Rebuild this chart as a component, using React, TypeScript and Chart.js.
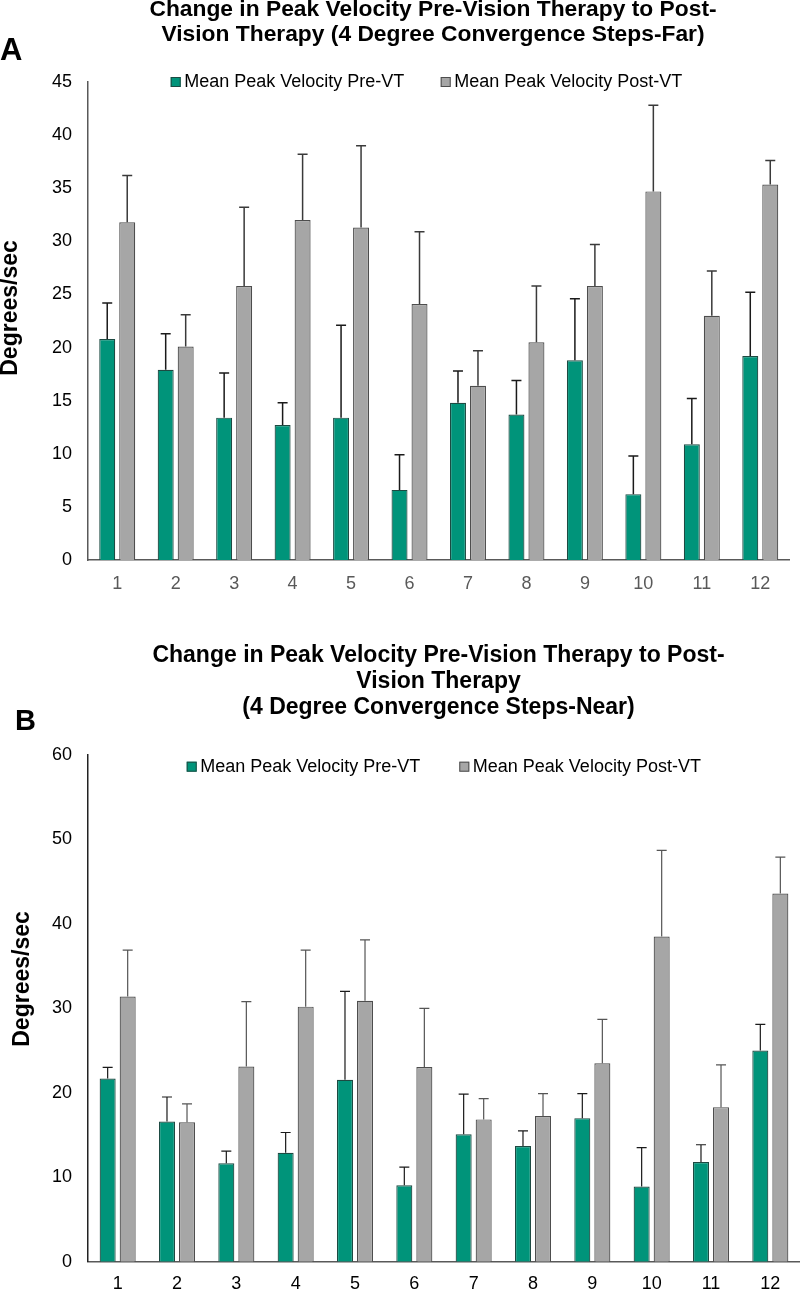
import React, { useEffect, useRef } from "react";
import { Chart, registerables } from "chart.js";

Chart.register(...registerables);

// ---------- DATA ----------
const categories = ["1", "2", "3", "4", "5", "6", "7", "8", "9", "10", "11", "12"];
const seriesLabels = ["Mean Peak Velocity Pre-VT", "Mean Peak Velocity Post-VT"];

// Panel A (Far)
const farPre = [20.8, 17.9, 13.4, 12.7, 13.4, 6.6, 14.8, 13.7, 18.8, 6.2, 10.9, 19.2];
const farPreSD = [3.4, 3.4, 4.2, 2.1, 8.7, 3.3, 3.0, 3.2, 5.8, 3.6, 4.3, 6.0];
const farPost = [31.8, 20.1, 25.8, 32.0, 31.3, 24.1, 16.4, 20.5, 25.8, 34.7, 23.0, 35.35];
const farPostSD = [4.4, 3.0, 7.4, 6.2, 7.7, 6.8, 3.3, 5.3, 3.9, 8.1, 4.2, 2.25];

// Panel B (Near)
const nearPre = [21.7, 16.6, 11.65, 12.9, 21.55, 9.05, 15.1, 13.7, 17.0, 8.9, 11.8, 25.0];
const nearPreSD = [1.3, 2.9, 1.45, 2.4, 10.45, 2.15, 4.75, 1.8, 2.9, 4.6, 2.05, 3.1];
const nearPost = [31.4, 16.5, 23.1, 30.2, 30.9, 23.05, 16.85, 17.25, 23.5, 38.5, 18.3, 43.6];
const nearPostSD = [5.5, 2.2, 7.7, 6.7, 7.2, 6.95, 2.45, 2.65, 5.2, 10.2, 5.0, 4.3];

const farTitle = [
  "Change in Peak Velocity Pre-Vision Therapy to Post-",
  "Vision Therapy (4 Degree Convergence Steps-Far)",
];
const nearTitle = [
  "Change in Peak Velocity Pre-Vision Therapy to Post-",
  "Vision Therapy",
  "(4 Degree Convergence Steps-Near)",
];
const yAxisTitle = "Degrees/sec";
const farYMax = 45;
const farYStep = 5;
const nearYMax = 60;
const nearYStep = 10;

// ---------- STYLE ----------
const FONT = "'Liberation Sans', Arial, Helvetica, sans-serif";
const TEAL = "#00947a";
const TEAL_BORDER = "#1d4a42";
const GRAY = "#a6a6a6";
const GRAY_BORDER = "#4d4d4d";

const errorBarPlugin = {
  id: "errorBars",
  afterDatasetsDraw(chart: any) {
    const ctx = chart.ctx;
    const yScale = chart.scales.y;
    chart.data.datasets.forEach((ds: any, i: number) => {
      const meta = chart.getDatasetMeta(i);
      meta.data.forEach((el: any, j: number) => {
        const v = ds.data[j];
        const e = ds.errors[j];
        const top = yScale.getPixelForValue(v + e);
        ctx.save();
        ctx.strokeStyle = ds.errorColor;
        ctx.lineWidth = ds.errorWidth;
        ctx.beginPath();
        ctx.moveTo(el.x, el.y);
        ctx.lineTo(el.x, top);
        ctx.moveTo(el.x - 5, top);
        ctx.lineTo(el.x + 5, top);
        ctx.stroke();
        ctx.restore();
      });
    });
  },
};

const decorPlugin = {
  id: "decor",
  afterDraw(chart: any, _args: any, opts: any) {
    const ctx = chart.ctx;
    ctx.save();
    // Title
    ctx.fillStyle = "#000";
    ctx.font = `bold ${opts.titleSize}px ${FONT}`;
    ctx.textAlign = "center";
    ctx.textBaseline = "middle";
    opts.title.forEach((line: string, i: number) => {
      ctx.fillText(line, opts.titleX, opts.titleY[i]);
    });
    // Panel letter
    ctx.font = `bold ${opts.letterSize}px ${FONT}`;
    ctx.textAlign = "left";
    ctx.fillText(opts.letter, opts.letterX, opts.letterY);
    // Legend
    ctx.font = `18px ${FONT}`;
    chart.data.datasets.forEach((ds: any, i: number) => {
      const bx = opts.legendX[i];
      const by = opts.legendY;
      ctx.fillStyle = ds.backgroundColor;
      ctx.fillRect(bx, by - 5, 10, 10);
      ctx.strokeStyle = ds.borderColor;
      ctx.lineWidth = 1;
      ctx.strokeRect(bx + 0.5, by - 4.5, 9, 9);
      ctx.fillStyle = "#000";
      ctx.textAlign = "left";
      ctx.textBaseline = "middle";
      ctx.fillText(ds.label, bx + 13.5, by);
    });
    // Y axis title
    ctx.translate(opts.yTitleX, opts.yTitleY);
    ctx.rotate(-Math.PI / 2);
    ctx.textAlign = "center";
    ctx.textBaseline = "alphabetic";
    ctx.font = `bold 23px ${FONT}`;
    ctx.fillStyle = "#000";
    ctx.fillText(yAxisTitle, 0, 0);
    ctx.restore();
  },
};

function buildConfig(p: any): any {
  return {
    type: "bar",
    data: {
      labels: categories,
      datasets: [
        {
          label: seriesLabels[0],
          data: p.pre,
          errors: p.preSD,
          errorColor: "#1a1a1a",
          errorWidth: p.errW,
          backgroundColor: TEAL,
          borderColor: TEAL_BORDER,
          borderWidth: 1.2,
          categoryPercentage: p.catPct,
          barPercentage: 0.8,
        },
        {
          label: seriesLabels[1],
          data: p.post,
          errors: p.postSD,
          errorColor: p.grayErr,
          errorWidth: p.errW,
          backgroundColor: GRAY,
          borderColor: GRAY_BORDER,
          borderWidth: 1.2,
          categoryPercentage: p.catPct,
          barPercentage: 0.8,
        },
      ],
    },
    options: {
      responsive: false,
      animation: false,
      devicePixelRatio: 1,
      layout: { padding: { top: p.padTop, right: p.padRight, bottom: 0, left: 0 } },
      plugins: {
        legend: { display: false },
        title: { display: false },
        tooltip: { enabled: false },
        decor: p.decor,
      },
      scales: {
        x: {
          grid: { display: false, drawTicks: false },
          border: { display: true, color: "#595959", width: 1.5 },
          ticks: { color: p.xTickColor, font: { family: FONT, size: 18 }, padding: p.xPad },
          afterFit: (s: any) => {
            s.height = p.xAxisH;
          },
        },
        y: {
          min: 0,
          max: p.yMax,
          grid: { display: false, drawTicks: false },
          border: { display: true, color: p.yAxisColor, width: 1.5 },
          ticks: { stepSize: p.yStep, color: "#000", font: { family: FONT, size: 18 }, padding: 16 },
          afterFit: (s: any) => {
            s.width = 88;
          },
        },
      },
    },
    plugins: [errorBarPlugin, decorPlugin],
  };
}

const panelA = {
  pre: farPre,
  preSD: farPreSD,
  post: farPost,
  postSD: farPostSD,
  yMax: farYMax,
  yStep: farYStep,
  catPct: 0.684,
  errW: 1.5,
  grayErr: "#3a3a3a",
  padTop: 82,
  padRight: 10.5,
  xAxisH: 40,
  xPad: 13.5,
  xTickColor: "#595959",
  yAxisColor: "#595959",
  decor: {
    title: farTitle,
    titleSize: 22.8,
    titleX: 433,
    titleY: [9.5, 35],
    letter: "A",
    letterSize: 31,
    letterX: 0,
    letterY: 51.5,
    legendX: [170.7, 440.7],
    legendY: 82,
    yTitleX: 17,
    yTitleY: 308,
  },
};

const panelB = {
  pre: nearPre,
  preSD: nearPreSD,
  post: nearPost,
  postSD: nearPostSD,
  yMax: nearYMax,
  yStep: nearYStep,
  catPct: 0.675,
  errW: 1.2,
  grayErr: "#555555",
  padTop: 155,
  padRight: 0,
  xAxisH: 28.3,
  xPad: 12,
  xTickColor: "#000",
  yAxisColor: "#222222",
  decor: {
    title: nearTitle,
    titleSize: 23,
    titleX: 438.5,
    titleY: [55.5, 82, 108],
    letter: "B",
    letterSize: 29,
    letterX: 15,
    letterY: 121.7,
    legendX: [186.7, 459.3],
    legendY: 166.7,
    yTitleX: 28.5,
    yTitleY: 379,
  },
};

function Panel({ cfg, top, height }: { cfg: any; top: number; height: number }) {
  const ref = useRef<HTMLCanvasElement>(null);
  useEffect(() => {
    const chart = new Chart(ref.current as HTMLCanvasElement, buildConfig(cfg));
    return () => chart.destroy();
  }, [cfg]);
  return (
    <canvas
      ref={ref}
      width={800}
      height={height}
      style={{ position: "absolute", left: 0, top, width: 800, height }}
    />
  );
}

export default function App() {
  return (
    <div
      style={{
        position: "absolute",
        left: 0,
        top: 0,
        width: 800,
        height: 1290,
        background: "#fff",
        overflow: "hidden",
      }}
    >
      <Panel cfg={panelA} top={0} height={600} />
      <Panel cfg={panelB} top={600} height={690} />
    </div>
  );
}
